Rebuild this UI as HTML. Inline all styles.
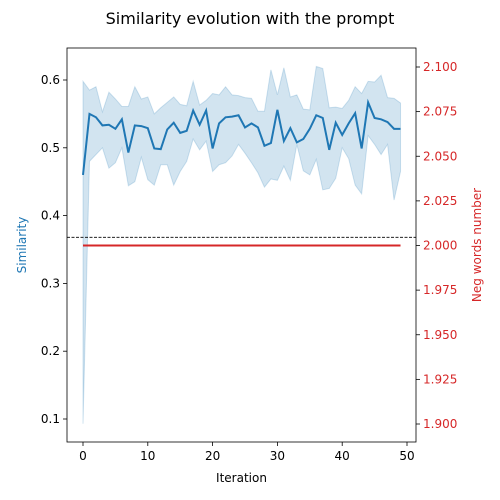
<!DOCTYPE html>
<html><head><meta charset="utf-8"><style>
html,body{margin:0;padding:0;background:#fff;overflow:hidden;}
svg{display:block;}
svg text{font-family:"DejaVu Sans","Liberation Sans",sans-serif;}
</style></head><body>
<svg id="chart" width="500" height="500" xmlns="http://www.w3.org/2000/svg">
<rect width="500" height="500" fill="#fff"/>
<text x="250" y="24" text-anchor="middle" font-size="16">Similarity evolution with the prompt</text>
<g id="band"></g><g id="lines"></g><g id="axes"></g>
</svg>
<script>
const iterations=[...Array(50).keys()];
const meanSim=[.46,.55,.545,.533,.534,.528,.542,.493,.533,.532,.529,.499,.498,.527,.537,.522,.525,.555,.534,.555,.499,.536,.545,.546,.548,.530,.536,.530,.503,.507,.556,.510,.529,.508,.513,.528,.548,.544,.497,.537,.519,.536,.551,.499,.567,.544,.542,.538,.528,.528];
const upperSim=[.598,.585,.590,.553,.582,.572,.561,.561,.590,.572,.575,.550,.559,.567,.575,.564,.562,.598,.563,.570,.580,.578,.590,.578,.577,.574,.573,.554,.554,.615,.578,.618,.575,.578,.557,.556,.620,.617,.559,.560,.558,.570,.590,.580,.598,.597,.607,.574,.573,.566];
const lowerSim=[.093,.48,.49,.50,.470,.478,.500,.444,.450,.486,.453,.445,.475,.475,.445,.465,.48,.513,.497,.510,.465,.475,.478,.488,.505,.492,.478,.463,.442,.454,.452,.473,.452,.505,.466,.460,.483,.438,.440,.455,.500,.484,.445,.432,.518,.505,.490,.505,.423,.465];
const negWords=Array(50).fill(2.0);
const thresholdSim=0.368;
const xTicks=[0,10,20,30,40,50];
const yTicks=[0.1,0.2,0.3,0.4,0.5,0.6];
const y2Ticks=[1.900,1.925,1.950,1.975,2.000,2.025,2.050,2.075,2.100];

const L=67,R=416,T=48,B=442;
const xs=v=>83+v*6.48;
const ys=v=>80+(0.6-v)*678;
const y2s=v=>67+(2.1-v)*(357/0.2);
const NS="http://www.w3.org/2000/svg";
function mk(tag,attrs,parent){const e=document.createElementNS(NS,tag);for(const k in attrs)e.setAttribute(k,attrs[k]);parent.appendChild(e);return e;}
const band=document.getElementById('band'),lines=document.getElementById('lines'),axes=document.getElementById('axes');

let d="M"+iterations.map(i=>xs(i)+","+ys(upperSim[i])).join("L");
d+="L"+iterations.slice().reverse().map(i=>xs(i)+","+ys(lowerSim[i])).join("L")+"Z";
const bp=mk('path',{d:d,fill:'#1f77b4','fill-opacity':0.2,stroke:'#1f77b4','stroke-opacity':0.2},band);



const th=mk('line',{x1:L,x2:R,y1:ys(thresholdSim),y2:ys(thresholdSim),stroke:'#000','stroke-width':0.8,'stroke-dasharray':'3,1.5'},lines);



const ml=mk('polyline',{points:iterations.map(i=>xs(i)+","+ys(meanSim[i])).join(" "),fill:'none',stroke:'#1f77b4','stroke-width':2},lines);



const nl=mk('polyline',{points:iterations.map(i=>xs(i)+","+y2s(negWords[i])).join(" "),fill:'none',stroke:'#d62728','stroke-width':2},lines);



const fr=mk('rect',{x:L,y:T,width:R-L,height:B-T,fill:'none',stroke:'#000','stroke-width':0.8},axes);



xTicks.forEach(v=>{
  mk('line',{x1:xs(v),x2:xs(v),y1:B,y2:B+4,stroke:'#000','stroke-width':0.8},axes);
  const t=mk('text',{x:xs(v),y:B+18,'text-anchor':'middle','font-size':12},axes);t.textContent=v;
  
  
});
yTicks.forEach(v=>{
  mk('line',{x1:L-4,x2:L,y1:ys(v),y2:ys(v),stroke:'#000','stroke-width':0.8},axes);
  const t=mk('text',{x:L-7,y:ys(v)+4,'text-anchor':'end','font-size':12},axes);t.textContent=v.toFixed(1);
  
  
});
y2Ticks.forEach(v=>{
  mk('line',{x1:R,x2:R+4,y1:y2s(v),y2:y2s(v),stroke:'#000','stroke-width':0.8},axes);
  const t=mk('text',{x:R+7,y:y2s(v)+4,'text-anchor':'start','font-size':12,fill:'#d62728'},axes);t.textContent=v.toFixed(3);
  
  
});
const xl=mk('text',{x:(L+R)/2,y:482,'text-anchor':'middle','font-size':12},axes);xl.textContent='Iteration';


const yl=mk('text',{x:0,y:0,'text-anchor':'middle','font-size':12,fill:'#1f77b4',transform:'translate(26,245) rotate(-90)'},axes);yl.textContent='Similarity';


const y2l=mk('text',{x:0,y:0,'text-anchor':'middle','font-size':12,fill:'#d62728',transform:'translate(481,245) rotate(-90)'},axes);y2l.textContent='Neg words number';


</script>
</body></html>
